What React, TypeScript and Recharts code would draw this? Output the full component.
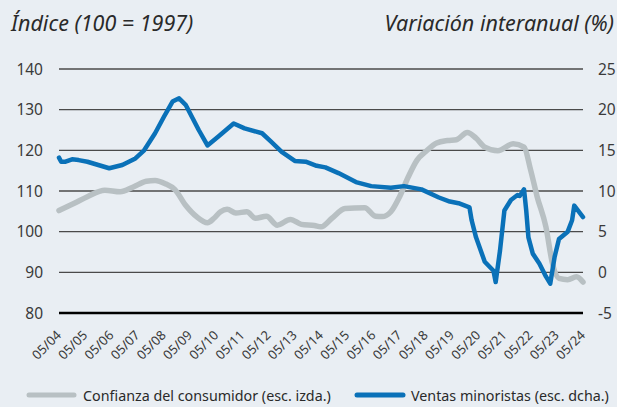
import React from 'react';
import { LineChart, Line, XAxis, YAxis, CartesianGrid } from 'recharts';

// Months counted from May 2004 (0) to May 2024 (240)
const xTickLabels = ['05/04','05/05','05/06','05/07','05/08','05/09','05/10','05/11','05/12','05/13','05/14','05/15','05/16','05/17','05/18','05/19','05/20','05/21','05/22','05/23','05/24'];
const leftTicks = [80, 90, 100, 110, 120, 130, 140];
const rightTicks = [-5, 0, 5, 10, 15, 20, 25];

// Confianza del consumidor (índice, esc. izda.)
const confMonths = [0, 7, 13, 21, 28, 34, 40, 44, 49, 53, 58, 63, 68, 71, 74, 77, 81, 86, 90, 95, 100, 106, 111, 117, 120, 125, 131, 140, 145, 148, 152, 156, 160, 164, 168, 173, 178, 182, 187, 191, 195, 201, 208, 213, 216, 219, 223, 226, 229, 233, 237, 240];
const confValues = [105.2, 107.0, 108.6, 110.2, 109.8, 111.0, 112.4, 112.6, 111.7, 110.4, 106.5, 103.7, 102.2, 103.3, 104.9, 105.5, 104.6, 104.9, 103.3, 103.8, 101.6, 103.0, 101.8, 101.5, 101.2, 103.3, 105.7, 105.9, 103.8, 103.7, 104.9, 108.6, 113.5, 117.6, 119.7, 121.8, 122.4, 122.6, 124.4, 123.0, 120.8, 119.9, 121.6, 120.8, 115.2, 108.6, 101.2, 92.2, 88.5, 88.2, 88.9, 87.6];

// Ventas minoristas (variación interanual %, esc. dcha.)
const salesMonths = [0, 1, 3, 6, 9, 13, 18, 23, 29, 35, 39, 44, 48, 52, 55, 58, 64, 68, 73, 80, 85, 93, 97, 102, 108, 113, 118, 122, 128, 136, 143, 152, 158, 166, 174, 179, 183, 188, 189, 191, 195, 199, 200, 202, 204, 207, 210, 211, 213, 214, 215, 217, 220, 223, 225, 227, 229, 233, 235, 236, 240];
const salesValues = [14.1, 13.6, 13.6, 13.9, 13.8, 13.6, 13.2, 12.8, 13.2, 14.0, 15.0, 17.1, 19.1, 21.0, 21.4, 20.6, 17.5, 15.6, 16.7, 18.3, 17.7, 17.1, 16.1, 14.8, 13.7, 13.6, 13.1, 12.9, 12.2, 11.1, 10.6, 10.4, 10.6, 10.2, 9.2, 8.7, 8.5, 8.0, 6.4, 4.3, 1.3, 0.2, -1.2, 2.7, 7.6, 8.9, 9.5, 9.4, 10.2, 7.6, 4.3, 2.3, 1.1, -0.5, -1.4, 1.9, 4.1, 5.0, 6.4, 8.2, 6.8];

const confData = confMonths.map((m, i) => ({ m, v: confValues[i] }));
const salesData = salesMonths.map((m, i) => ({ m, v: salesValues[i] }));
const xTicks = xTickLabels.map((_, i) => i * 12);

const BG = '#e9eef3';
const BLUE = '#0a71b8';
const GREY = '#b8c0c3';
const FONT = "'Noto Sans', sans-serif";

const XTick = (props: any) => {
  const { x, y, payload } = props;
  const label = xTickLabels[Math.round(payload.value / 12)];
  const tx = x + 3;
  const ty = y + 15;
  return (
    <text x={tx} y={ty} textAnchor="end" fontSize={13} fill="#3a3a3a" fontFamily={FONT} transform={`rotate(-45, ${tx}, ${ty})`}>
      {label}
    </text>
  );
};

export default function App() {
  return (
    <div style={{ position: 'absolute', left: 0, top: 0, width: 617, height: 407, background: BG, fontFamily: FONT, overflow: 'hidden' }}>
      <LineChart width={617} height={407} margin={{ top: 69, right: 0, bottom: 0, left: 0 }}>
        <CartesianGrid yAxisId="left" horizontal={true} vertical={false} stroke="#4a4a4a" strokeWidth={1.3} />
        <XAxis
          dataKey="m"
          type="number"
          domain={[0, 240]}
          ticks={xTicks}
          interval={0}
          height={94}
          tickLine={false}
          axisLine={{ stroke: '#000', strokeWidth: 2.5 }}
          tick={<XTick />}
          allowDuplicatedCategory={false}
        />
        <YAxis
          yAxisId="left"
          domain={[80, 140]}
          ticks={leftTicks}
          width={59}
          axisLine={false}
          tickLine={false}
          tickMargin={10}
          tick={{ fontSize: 15.5, fill: '#3a3a3a', fontFamily: FONT }}
          interval={0}
        />
        <YAxis
          yAxisId="right"
          orientation="right"
          domain={[-5, 25]}
          ticks={rightTicks}
          width={34}
          axisLine={false}
          tickLine={false}
          tickMargin={9}
          tick={{ fontSize: 15.5, fill: '#3a3a3a', fontFamily: FONT, textAnchor: 'start' }}
          interval={0}
        />
        <Line yAxisId="left" data={confData} dataKey="v" type="monotone" stroke={GREY} strokeWidth={5.5} dot={false} isAnimationActive={false} strokeLinecap="round" strokeLinejoin="round" />
        <Line yAxisId="right" data={salesData} dataKey="v" type="linear" stroke={BLUE} strokeWidth={4.5} dot={false} isAnimationActive={false} strokeLinecap="round" strokeLinejoin="round" />
      </LineChart>
      <div style={{ position: 'absolute', left: 11, top: 9, fontSize: 21.5, fontStyle: 'italic', color: '#2a2a2a', whiteSpace: 'nowrap', lineHeight: '28px' }}>
        Índice (100 = 1997)
      </div>
      <div style={{ position: 'absolute', right: 3, top: 9, fontSize: 21.5, fontStyle: 'italic', color: '#2a2a2a', whiteSpace: 'nowrap', lineHeight: '28px' }}>
        Variación interanual (%)
      </div>
      <svg style={{ position: 'absolute', left: 0, top: 380 }} width={617} height={27}>
        <line x1={29} y1={15} x2={74} y2={15} stroke={GREY} strokeWidth={5} strokeLinecap="round" />
        <text x={83} y={20.5} fontSize={14.3} fill="#2a2a2a" fontFamily={FONT}>Confianza del consumidor (esc. izda.)</text>
        <line x1={357} y1={15} x2={403} y2={15} stroke={BLUE} strokeWidth={5} strokeLinecap="round" />
        <text x={411} y={20.5} fontSize={14.3} fill="#2a2a2a" fontFamily={FONT}>Ventas minoristas (esc. dcha.)</text>
      </svg>
    </div>
  );
}
